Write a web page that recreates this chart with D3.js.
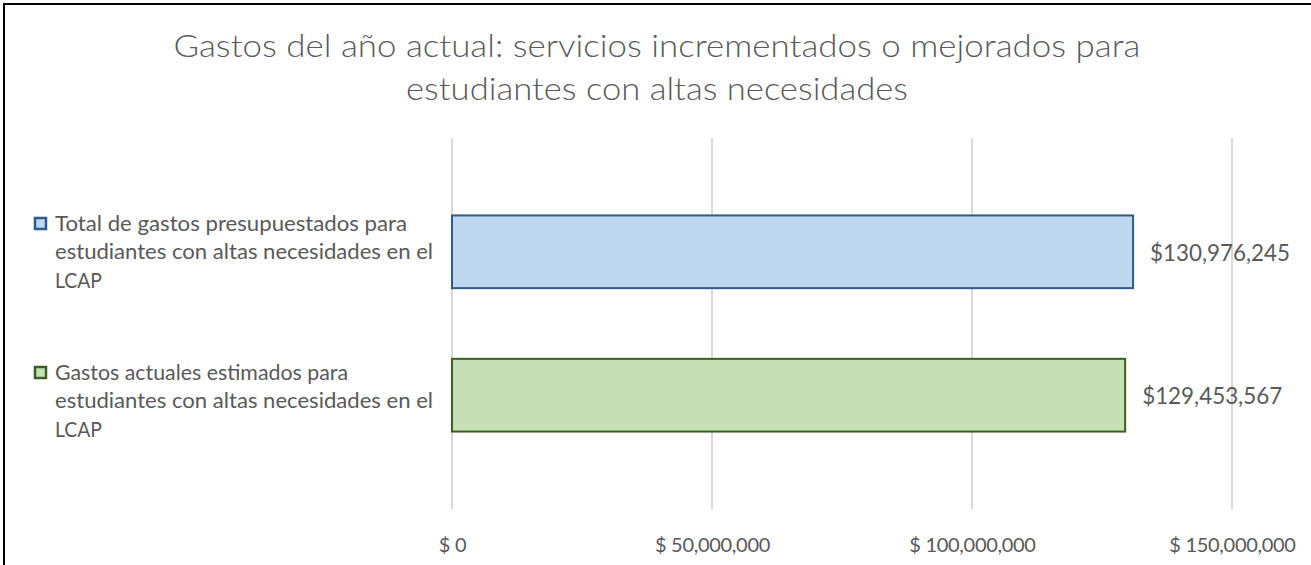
<!DOCTYPE html>
<html>
<head>
<meta charset="utf-8">
<script src="https://cdn.jsdelivr.net/npm/d3@7"></script>
<style>
  html, body { margin: 0; padding: 0; background: #fff; }
  svg { display: block; }
  text { font-family: Lato, "Open Sans", sans-serif; fill: #595959; }
</style>
</head>
<body>
<svg id="chart" width="1311" height="565"></svg>
<script>
// ---- data ----
const titleLines = [
  "Gastos del año actual: servicios incrementados o mejorados para",
  "estudiantes con altas necesidades"
];
const seriesNames = [
  "Total de gastos presupuestados para estudiantes con altas necesidades en el LCAP",
  "Gastos actuales estimados para estudiantes con altas necesidades en el LCAP"
];
const legendLines = [
  ["Total de gastos presupuestados para", "estudiantes con altas necesidades en el", "LCAP"],
  ["Gastos actuales estimados para", "estudiantes con altas necesidades en el", "LCAP"]
];
const seriesValues = [130976245, 129453567];
const tickValues = [0, 50000000, 100000000, 150000000];
const axisMax = 150000000;

// ---- styles ----
const fills = ["#bdd7ee", "#c5e0b4"];
const strokes = ["#2e5a8c", "#3b5e22"];

const svg = d3.select("#chart");

// outer border (top & left visible)
svg.append("path")
  .attr("d", "M4,600 L4,4 L1400,4")
  .attr("fill", "none").attr("stroke", "#000").attr("stroke-width", 2);

// title
const titleWidths = [967, 502];
svg.append("g").selectAll("text").data(titleLines).join("text")
  .attr("x", 657)
  .attr("y", (d, i) => 57 + i * 43)
  .attr("text-anchor", "middle")
  .attr("font-size", 31)
  .attr("font-weight", 300)
  .attr("textLength", (d, i) => titleWidths[i])
  .attr("lengthAdjust", "spacingAndGlyphs")
  .text(d => d);

// scales
const x = d3.scaleLinear().domain([0, axisMax]).range([452, 1232]);
const y = d3.scaleBand().domain(seriesNames).range([138, 509])
  .paddingInner(0.493).paddingOuter(0.54);

// gridlines
svg.append("g").selectAll("line").data(tickValues).join("line")
  .attr("x1", d => x(d)).attr("x2", d => x(d))
  .attr("y1", 138).attr("y2", 509)
  .attr("stroke", "#d9d9d9").attr("stroke-width", 2);

// bars
svg.append("g").selectAll("rect").data(seriesNames).join("rect")
  .attr("x", x(0))
  .attr("y", d => y(d))
  .attr("width", (d, i) => x(seriesValues[i]) - x(0))
  .attr("height", y.bandwidth())
  .attr("fill", (d, i) => fills[i])
  .attr("stroke", (d, i) => strokes[i])
  .attr("stroke-width", 2);

// value labels
svg.append("g").selectAll("text").data(seriesNames).join("text")
  .attr("x", (d, i) => x(seriesValues[i]) + 17)
  .attr("y", d => y(d) + y.bandwidth() / 2 + 9)
  .attr("font-size", 23)
  .attr("textLength", 140)
  .attr("lengthAdjust", "spacingAndGlyphs")
  .text((d, i) => "$" + d3.format(",")(seriesValues[i]));

// x axis
const axis = d3.axisBottom(x)
  .tickValues(tickValues)
  .tickSize(0)
  .tickPadding(0)
  .tickFormat(d => "$ " + d3.format(",")(d));
const gAxis = svg.append("g").attr("transform", "translate(0,552)").call(axis);
gAxis.select(".domain").remove();
gAxis.selectAll("text")
  .attr("y", 0).attr("dy", 0)
  .attr("font-family", "Lato, 'Open Sans', sans-serif")
  .attr("font-size", 20)
  .attr("fill", "#595959")
  .style("letter-spacing", "-0.3px");

// legend
const legendTop = [231, 380];
const lg = svg.append("g").selectAll("g").data(seriesNames).join("g")
  .attr("transform", (d, i) => `translate(0,${legendTop[i]})`);
lg.append("rect")
  .attr("x", 35).attr("y", -13).attr("width", 11).attr("height", 11)
  .attr("fill", (d, i) => fills[i])
  .attr("stroke", (d, i) => strokes[i])
  .attr("stroke-width", 2.5);
const legendWidths = [[352, 378, 47], [293, 378, 47]];
lg.each(function(d, i) {
  d3.select(this).selectAll("text").data(legendLines[i]).join("text")
    .attr("x", 55)
    .attr("y", (t, j) => j * 28.3)
    .attr("font-size", 21)
    .attr("textLength", (t, j) => legendWidths[i][j])
    .attr("lengthAdjust", "spacingAndGlyphs")
    .text(t => t);
});
</script>
</body>
</html>
